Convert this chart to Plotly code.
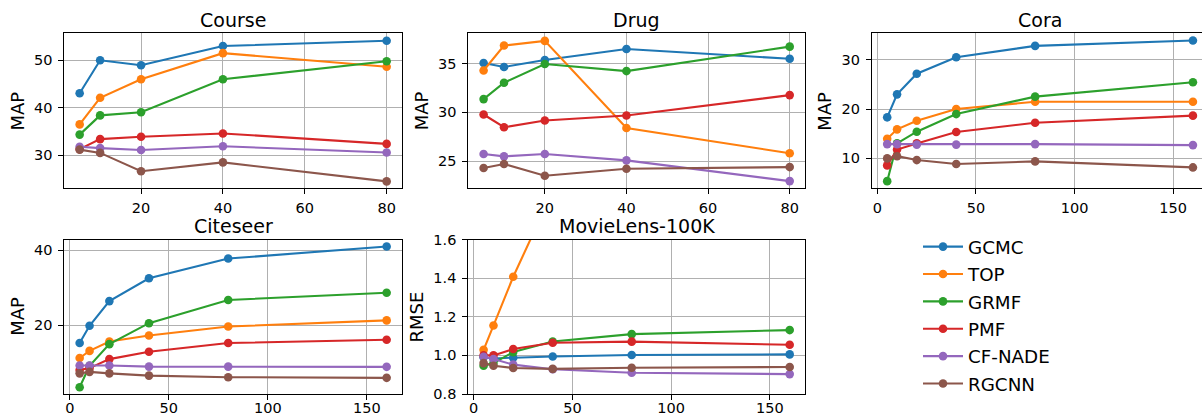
import plotly.graph_objects as go

W, H = 1202, 417

methods = ["GCMC", "TOP", "GRMF", "PMF", "CF-NADE", "RGCNN"]
colors = ["#1f77b4", "#ff7f0e", "#2ca02c", "#d62728", "#9467bd", "#8c564b"]

x_small = [5, 10, 20, 40, 80]
x_large = [5, 10, 20, 40, 80, 160]

course_gcmc = [43.05, 50.0, 48.95, 53.0, 54.1]
course_top = [36.5, 42.1, 46.0, 51.5, 48.65]
course_grmf = [34.35, 38.4, 39.05, 46.0, 49.8]
course_pmf = [31.3, 33.4, 33.9, 34.6, 32.4]
course_cfnade = [31.8, 31.5, 31.1, 31.9, 30.6]
course_rgcnn = [31.2, 30.5, 26.65, 28.5, 24.5]

drug_gcmc = [35.07, 34.66, 35.38, 36.5, 35.5]
drug_top = [34.3, 36.86, 37.34, 28.4, 25.8]
drug_grmf = [31.36, 33.04, 34.97, 34.24, 36.75]
drug_pmf = [29.78, 28.47, 29.16, 29.67, 31.77]
drug_cfnade = [25.72, 25.48, 25.72, 25.07, 22.94]
drug_rgcnn = [24.28, 24.69, 23.49, 24.21, 24.38]

cora_gcmc = [18.34, 23.0, 27.2, 30.54, 32.85, 33.93]
cora_top = [14.0, 15.9, 17.66, 20.03, 21.5, 21.5]
cora_grmf = [5.38, 13.05, 15.42, 19.0, 22.54, 25.46]
cora_pmf = [8.58, 11.8, 13.05, 15.36, 17.25, 18.68]
cora_cfnade = [12.9, 12.9, 12.8, 12.8, 12.9, 12.7]
cora_rgcnn = [10.0, 10.45, 9.66, 8.85, 9.39, 8.17]

citeseer_gcmc = [15.2, 19.8, 26.4, 32.5, 37.77, 40.98]
citeseer_top = [11.2, 13.1, 15.6, 17.2, 19.6, 21.25]
citeseer_grmf = [3.4, 9.1, 14.9, 20.5, 26.7, 28.65]
citeseer_pmf = [8.0, 8.5, 10.9, 12.85, 15.2, 16.07]
citeseer_cfnade = [9.2, 9.2, 9.2, 8.9, 8.9, 8.84]
citeseer_rgcnn = [7.1, 7.5, 7.1, 6.5, 6.07, 5.9]

ml_gcmc = [0.99, 0.984, 0.988, 0.994, 1.002, 1.005]
ml_top = [1.029, 1.155, 1.407, 1.85, 2.4, 2.9]
ml_grmf = [0.946, 0.96, 1.017, 1.072, 1.11, 1.131]
ml_pmf = [1.0, 1.0, 1.033, 1.065, 1.071, 1.055]
ml_cfnade = [0.993, 0.981, 0.952, 0.928, 0.91, 0.903]
ml_rgcnn = [0.96, 0.946, 0.935, 0.93, 0.936, 0.94]

panels = [
    dict(title="Course", ylabel="MAP", x=x_small,
         ys=[course_gcmc, course_top, course_grmf, course_pmf, course_cfnade, course_rgcnn],
         xtick=[20, 40, 60, 80], ytick=[30, 40, 50], ytext=["30", "40", "50"]),
    dict(title="Drug", ylabel="MAP", x=x_small,
         ys=[drug_gcmc, drug_top, drug_grmf, drug_pmf, drug_cfnade, drug_rgcnn],
         xtick=[20, 40, 60, 80], ytick=[25, 30, 35], ytext=["25", "30", "35"]),
    dict(title="Cora", ylabel="MAP", x=x_large,
         ys=[cora_gcmc, cora_top, cora_grmf, cora_pmf, cora_cfnade, cora_rgcnn],
         xtick=[0, 50, 100, 150], ytick=[10, 20, 30], ytext=["10", "20", "30"]),
    dict(title="Citeseer", ylabel="MAP", x=x_large,
         ys=[citeseer_gcmc, citeseer_top, citeseer_grmf, citeseer_pmf, citeseer_cfnade, citeseer_rgcnn],
         xtick=[0, 50, 100, 150], ytick=[20, 40], ytext=["20", "40"]),
    dict(title="MovieLens-100K", ylabel="RMSE", x=x_large,
         ys=[ml_gcmc, ml_top, ml_grmf, ml_pmf, ml_cfnade, ml_rgcnn],
         xtick=[0, 50, 100, 150], ytick=[0.8, 1.0, 1.2, 1.4, 1.6],
         ytext=["0.8", "1.0", "1.2", "1.4", "1.6"]),
]

# layout (pixels): x-domain, y-domain (top, bottom), ranges
geom = [
    dict(xd=(64.3, 402.0), yd=(33.3, 188.3), xr=(1.25, 83.75), yr=(23.05, 55.68), mirror_y=True, tcx=233.2, xso=1),
    dict(xd=(468.3, 805.0), yd=(33.3, 188.3), xr=(1.25, 83.75), yr=(22.2, 38.12), mirror_y=True, tcx=636.7, xso=1),
    dict(xd=(871.9, 1202.0), yd=(33.3, 188.3), xr=(-2.75, 164.6), yr=(3.93, 35.4), mirror_y=False, tcx=1040.1, xso=1),
    dict(xd=(64.3, 402.0), yd=(239.5, 394.0), xr=(-2.75, 167.75), yr=(1.58, 42.86), mirror_y=True, tcx=233.2, xso=-4),
    dict(xd=(468.3, 805.0), yd=(239.5, 394.0), xr=(-2.75, 167.75), yr=(0.8, 1.6), mirror_y=True, tcx=636.7, xso=-4),
]
ylabel_x = [17.8, 421.5, 825.0, 18.0, 416.8]

FONT = "DejaVu Sans"
fig = go.Figure()
annotations = []
layout_axes = {}

for i, (p, g) in enumerate(zip(panels, geom)):
    n = i + 1
    xa = "x" if n == 1 else f"x{n}"
    ya = "y" if n == 1 else f"y{n}"
    for m, col, yv in zip(methods, colors, p["ys"]):
        fig.add_trace(go.Scatter(
            x=p["x"], y=yv, mode="lines+markers", name=m,
            legendgroup=m, showlegend=(i == 0),
            line=dict(color=col, width=2.1),
            marker=dict(color=col, size=8.6),
            xaxis=xa, yaxis=ya))
    x0, x1 = g["xd"]
    yt, yb = g["yd"]
    common = dict(showline=True, linecolor="black", linewidth=1,
                  showgrid=True, gridcolor="#b0b0b0", gridwidth=1,
                  zeroline=False, ticks="outside", ticklen=5, tickwidth=1,
                  tickcolor="black", tickfont=dict(size=14.5, color="black", family=FONT))
    layout_axes["xaxis" if n == 1 else f"xaxis{n}"] = dict(
        domain=[x0 / W, x1 / W], range=list(g["xr"]), anchor=ya, mirror=True,
        tickvals=p["xtick"], ticktext=[str(t) for t in p["xtick"]],
        ticklabelstandoff=g["xso"], automargin=False, **common)
    layout_axes["yaxis" if n == 1 else f"yaxis{n}"] = dict(
        domain=[1 - yb / H, 1 - yt / H], range=list(g["yr"]), anchor=xa,
        mirror=g["mirror_y"], tickvals=p["ytick"], ticktext=p["ytext"],
        ticklabelstandoff=3, automargin=False, **common)
    annotations.append(dict(
        text=p["title"], xref="paper", yref="paper",
        x=g["tcx"] / W, y=1 - (yt - 13.5) / H,
        xanchor="center", yanchor="middle", showarrow=False,
        font=dict(size=19, color="black", family=FONT)))
    annotations.append(dict(
        text=p["ylabel"], xref="paper", yref="paper",
        x=ylabel_x[i] / W, y=1 - ((yt + yb) / 2) / H, textangle=-90,
        xanchor="center", yanchor="middle", showarrow=False,
        font=dict(size=18, color="black", family=FONT)))

fig.update_layout(
    width=W, height=H, margin=dict(l=0, r=0, t=0, b=0, pad=0, autoexpand=False),
    paper_bgcolor="white", plot_bgcolor="white",
    font=dict(family=FONT, color="black"),
    annotations=annotations,
    legend=dict(x=918 / W, y=1 - 228.2 / H, xanchor="left", yanchor="top",
                font=dict(size=18.3, color="black", family=FONT),
                bgcolor="rgba(0,0,0,0)", borderwidth=0,
                tracegroupgap=0.6, itemwidth=40),
    **layout_axes,
)

fig.write_html("out.html")
